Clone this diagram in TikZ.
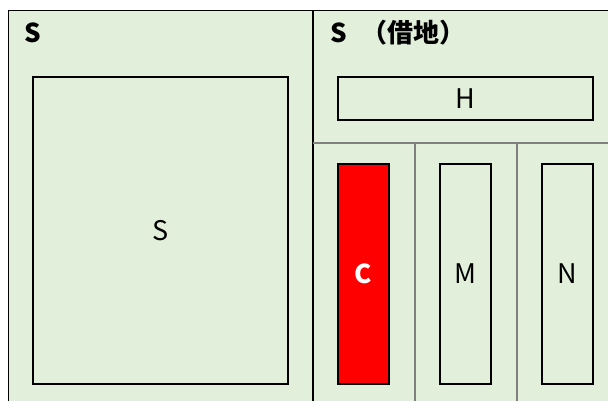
\documentclass[tikz,border=0pt]{standalone}
\usepackage{fontspec}
\setmainfont{Noto Sans CJK JP}
\definecolor{bg}{HTML}{E2EFDA}
\definecolor{gr}{HTML}{808080}
\definecolor{cred}{HTML}{FF0000}
\begin{document}
\begin{tikzpicture}[x=1pt,y=-1pt,
  lot/.style={draw=black,line width=1.2pt,fill=bg,inner sep=0pt,font=\fontsize{27}{30}\selectfont},
  title/.style={anchor=west,inner sep=0pt,font=\fontsize{26}{30}\selectfont\bfseries}]
\useasboundingbox (0,0) rectangle (608,401);
\fill[white] (0,0) rectangle (608,401);
\fill[bg] (8,11) rectangle (608,401);
\draw[line width=1pt] (8,401) -- (8,11) -- (608,11);
\draw[line width=1.4pt] (313,11) -- (313,401);
\draw[gr,line width=1.2pt] (313,143) -- (608,143);
\draw[gr,line width=1.2pt] (415,143) -- (415,401);
\draw[gr,line width=1.2pt] (517,143) -- (517,401);
\node[title] (t1) at (24,33) {S};
\node[title] (t2) at (330,33) {S\hspace{9pt} （借地）};
\node[lot,minimum width=255pt,minimum height=307pt] (s) at (160.5,230.5) {S};
\node[lot,minimum width=255pt,minimum height=43pt] (h) at (465.5,98.5) {H};
\node[lot,fill=cred,text=white,font=\fontsize{26}{30}\selectfont\bfseries,minimum width=51pt,minimum height=220pt] (c) at (363.5,274) {C};
\node[lot,minimum width=51pt,minimum height=220pt] (m) at (465.5,274) {M};
\node[lot,minimum width=51pt,minimum height=220pt] (n) at (567.5,274) {N};
\end{tikzpicture}
\end{document}
